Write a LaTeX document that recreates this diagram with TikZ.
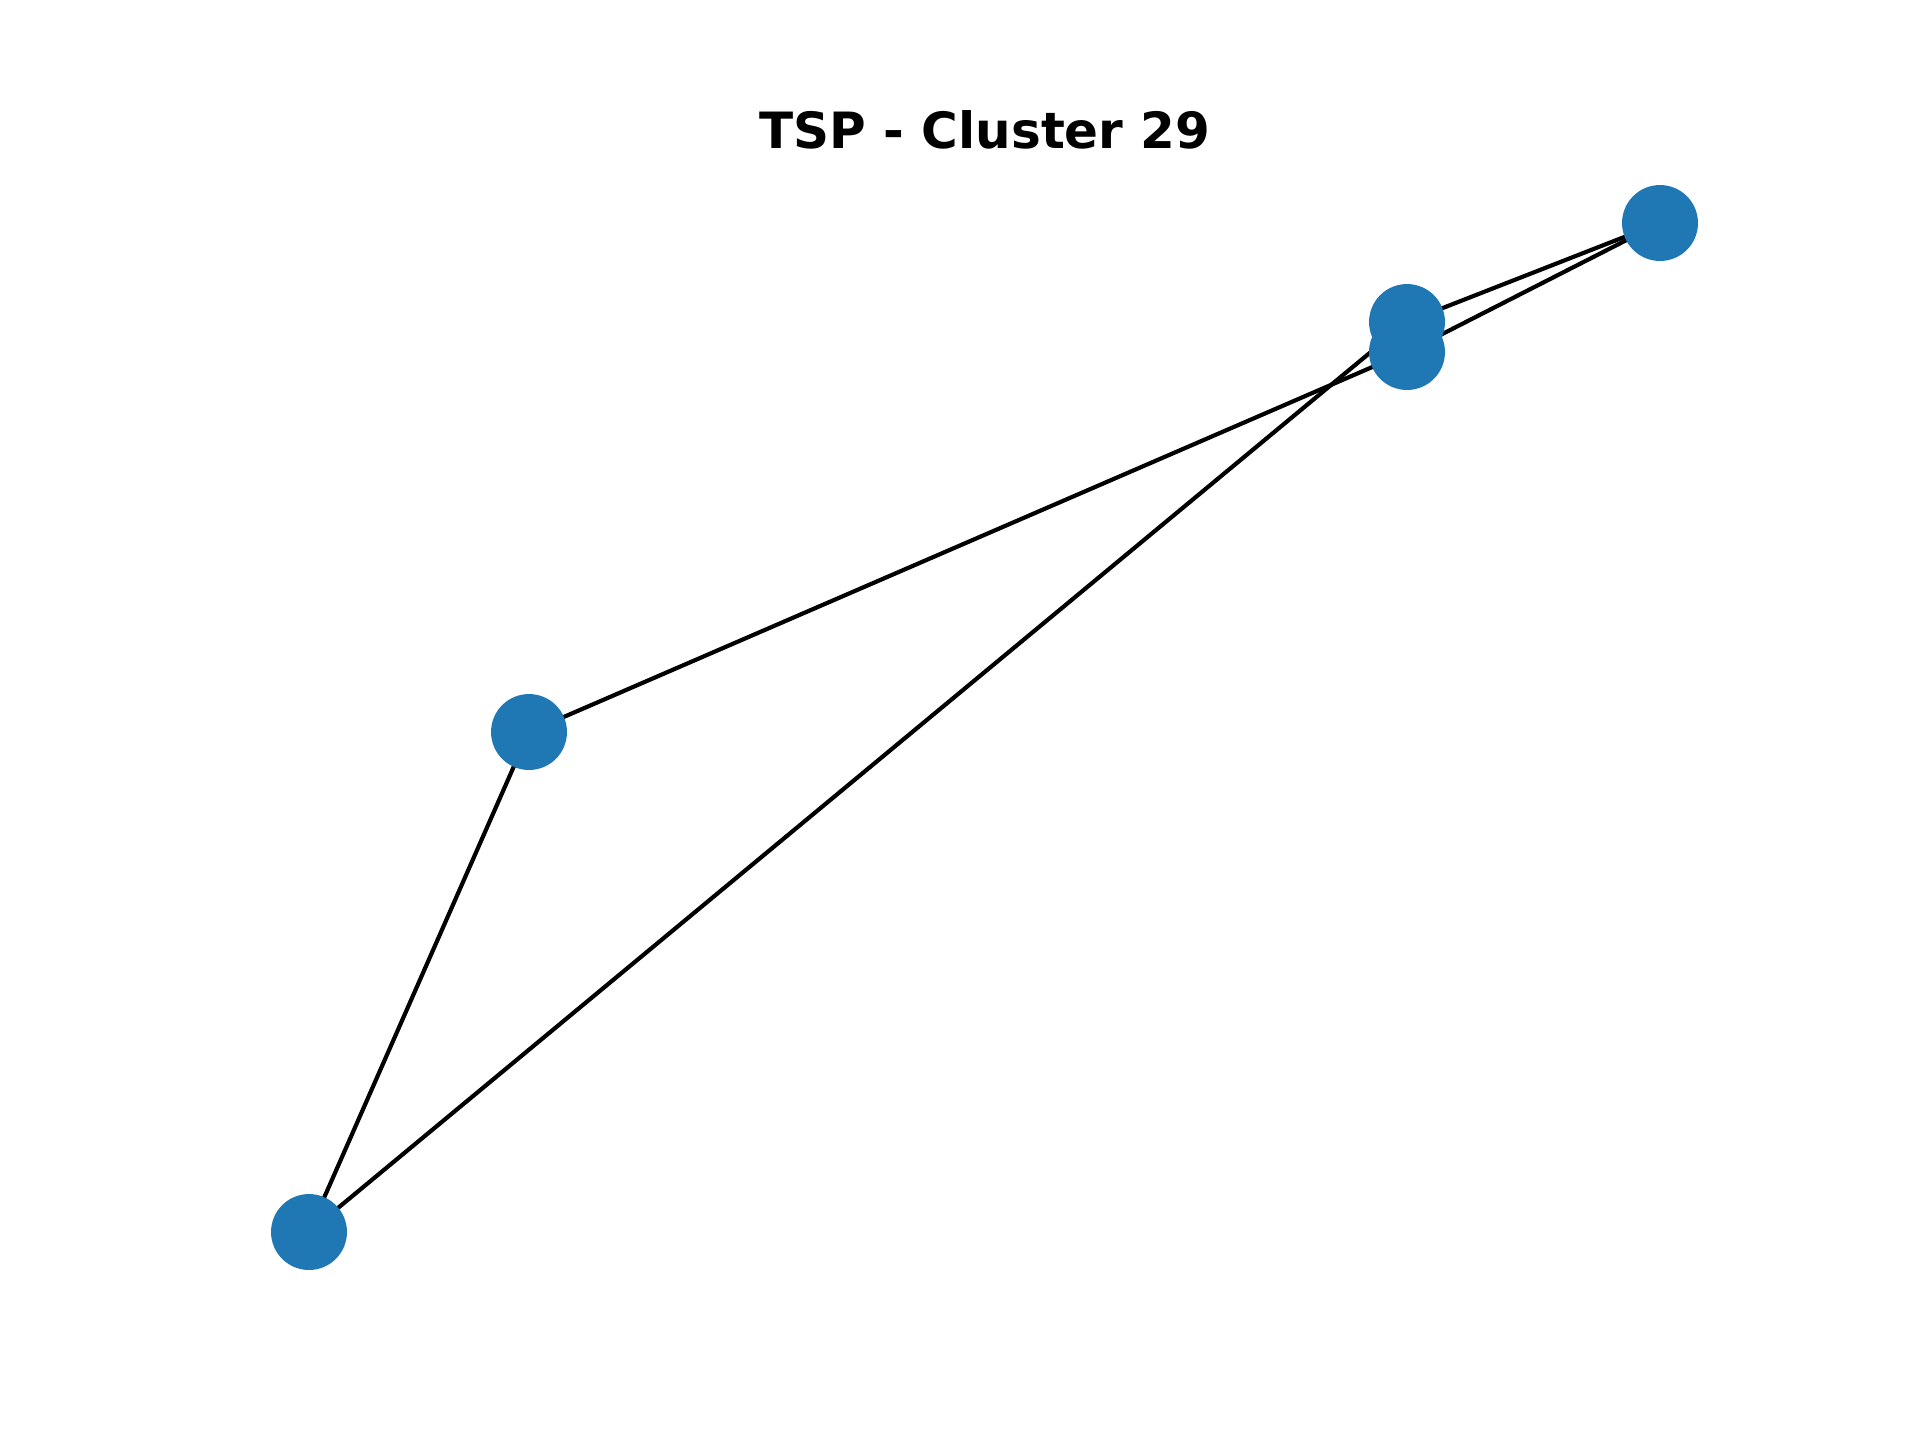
\documentclass[tikz,border=0pt]{standalone}
\usepackage{fontspec}
\setmainfont{DejaVu Sans}
\usepackage{xcolor}
\definecolor{tabblue}{HTML}{1F77B4}
\usetikzlibrary{positioning,backgrounds}

\begin{document}
\begin{tikzpicture}[
  x=0.0846667mm, y=-0.0846667mm,
  city/.style={circle, fill=tabblue, minimum size=6.43mm, inner sep=0pt},
  tour/.style={line width=1bp, black},
  ttl/.style={font=\bfseries\fontsize{12bp}{14bp}\selectfont, anchor=base, inner sep=0pt}
]
\useasboundingbox (0,0) rectangle (1920,1440);

\node[ttl] (title) at (985,148) {TSP - Cluster 29};

% cities of the cluster
\node[city] (c1) at (1660,223) {};
\node[city] (c2) at (1407,322) {};
\node[city] (c3) at (1407,352) {};
\node[city] (c4) at (529,732) {};
\node[city] (c5) at (309,1232) {};

% tour, drawn behind the cities
\begin{scope}[on background layer]
\draw[tour] (c1.center) -- (c2.center);
\draw[tour] (c2.center) -- (c5.center);
\draw[tour] (c5.center) -- (c4.center);
\draw[tour] (c4.center) -- (c3.center);
\draw[tour] (c3.center) -- (c1.center);
\end{scope}

\end{tikzpicture}
\end{document}
